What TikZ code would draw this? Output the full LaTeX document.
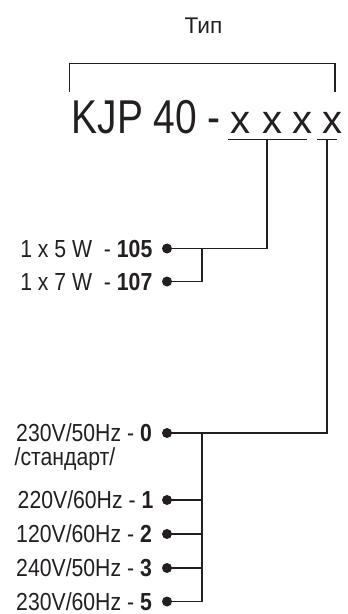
\documentclass[tikz,border=0pt]{standalone}
\usepackage{fontspec}
\setmainfont{Liberation Sans}[FakeStretch=0.86]
\newfontfamily\widefont{Liberation Sans}
\newfontfamily\codefont{Liberation Sans}[FakeStretch=0.82]
\definecolor{ink}{RGB}{35,31,32}
\tikzset{every picture/.style={line width=1pt}}
\tikzset{
  lbl/.style={anchor=base east,inner sep=0pt,text=ink,font=\fontsize{18.5}{20}\selectfont},
  pin/.style={circle,fill=ink,inner sep=0pt,minimum size=7.5pt},
  ex/.style={anchor=base,inner sep=0pt,text=ink,font=\widefont\fontsize{30}{32}\selectfont}
}
\begin{document}
\begin{tikzpicture}[x=0.75pt,y=0.75pt,yscale=-1,xscale=1,draw=ink]
\useasboundingbox (0,0) rectangle (347,614);

% Text Node
\node [anchor=base,inner sep=0pt,text=ink,font=\widefont\fontsize{17}{18}\selectfont] (tip) at (203.5,33) {Тип};
%Bracket
\draw (69.5,92) -- (69.5,63.5) -- (335,63.5) -- (335,92) ;

% Type code
\node [anchor=base west,inner sep=0pt,text=ink,font=\codefont\fontsize{35.6}{38}\selectfont] (code) at (71,133) {KJP 40 -};
\node [ex] (x1) at (240,133) {x};
\node [ex] (x2) at (272,133) {x};
\node [ex] (x3) at (302.5,133) {x};
\node [ex] (x4) at (332,133) {x};
%Underlines
\coordinate (u1) at (267,139.5);
\coordinate (u2) at (327,139.5);
\draw (228,139.5) -- (307,139.5) ;
\draw (317,139.5) -- (337,139.5) ;

% Power
\node [pin] (d105) at (167,248.5) {};
\node [pin] (d107) at (167,281.5) {};
\node [lbl] (l105) at (153,257) {1 x 5 W\ \ - \textbf{105}};
\node [lbl] (l107) at (153,290) {1 x 7 W\ \ - \textbf{107}};
\draw (d105.center) -| (u1) ;
\draw (d107.center) -| (202,248.5) ;

% Voltage
\coordinate (bus) at (202,433);
\node [pin] (d0) at (167,433) {};
\node [pin] (d1) at (167,500) {};
\node [pin] (d2) at (167,534) {};
\node [pin] (d3) at (167,568) {};
\node [pin] (d5) at (167,601.5) {};
\node [lbl] (l0) at (152.5,441.5) {230V/50Hz - \textbf{0}};
\node [anchor=base west,inner sep=0pt,text=ink,font=\fontsize{18.5}{20}\selectfont] (std) at (14,465.5) {/стандарт/};
\node [lbl] (l1) at (154,508.5) {220V/60Hz - \textbf{1}};
\node [lbl] (l2) at (152.5,542.5) {120V/60Hz - \textbf{2}};
\node [lbl] (l3) at (152.5,576.5) {240V/50Hz - \textbf{3}};
\node [lbl] (l5) at (152.5,610) {230V/60Hz - \textbf{5}};
\draw (d0.center) -| (u2) ;
\draw (bus) -- (bus |- d5) ;
\foreach \d in {d1,d2,d3,d5}
  \draw (\d.center) -- (\d -| bus) ;
\end{tikzpicture}
\end{document}
